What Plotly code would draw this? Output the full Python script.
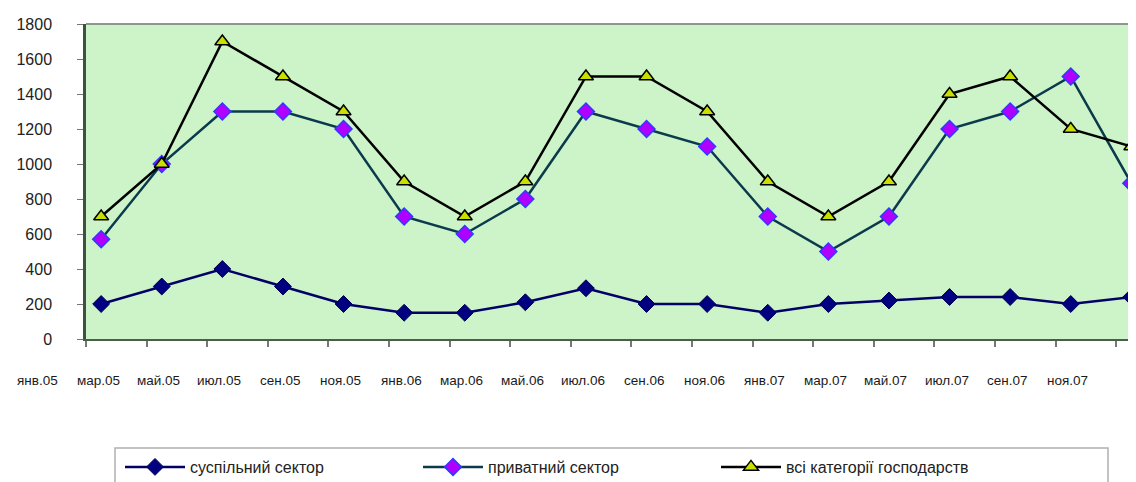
import plotly.graph_objects as go

# ---- data ----
labels = ["янв.05", "мар.05", "май.05", "июл.05", "сен.05", "ноя.05",
          "янв.06", "мар.06", "май.06", "июл.06", "сен.06", "ноя.06",
          "янв.07", "мар.07", "май.07", "июл.07", "сен.07", "ноя.07"]
public_sector = [200, 300, 400, 300, 200, 150, 150, 210, 290, 200, 200, 150,
                 200, 220, 240, 240, 200, 240]
private_sector = [570, 1000, 1300, 1300, 1200, 700, 600, 800, 1300, 1200, 1100, 700,
                  500, 700, 1200, 1300, 1500, 890]
all_categories = [700, 1000, 1700, 1500, 1300, 900, 700, 900, 1500, 1500, 1300, 900,
                  700, 900, 1400, 1500, 1200, 1100]
series_names = ["суспільний сектор", "приватний сектор", "всі категорії господарств"]
y_ticks = [0, 200, 400, 600, 800, 1000, 1200, 1400, 1600, 1800]

n = len(public_sector)
xs = list(range(1, n + 1))
FONT = "Liberation Sans, Arial, sans-serif"

# figure geometry (page has an 8px body margin)
W, H = 1136, 474
ML, MT, MB, MR = 78, 16, 143, 0
PW = W - ML - MR
PH = H - MT - MB
UNIT = 60.6
XR = [0.75, 0.75 + PW / UNIT]

fig = go.Figure()
fig.add_trace(go.Scatter(
    x=xs, y=public_sector, name=series_names[0], mode="lines+markers",
    line=dict(color="#000066", width=2.5),
    marker=dict(symbol="diamond", size=13, color="#000080",
                line=dict(color="#000050", width=1)),
    cliponaxis=False))
fig.add_trace(go.Scatter(
    x=xs, y=private_sector, name=series_names[1], mode="lines+markers",
    line=dict(color="#0b3a4c", width=2.5),
    marker=dict(symbol="diamond", size=13, color="#b000ff",
                line=dict(color="#2a3cff", width=1.5)),
    cliponaxis=False))
fig.add_trace(go.Scatter(
    x=xs, y=all_categories, name=series_names[2], mode="lines+markers",
    line=dict(color="#000000", width=2.5),
    marker=dict(symbol="triangle-up", size=13, color="#c8e000",
                line=dict(color="#000000", width=1.5)),
    cliponaxis=False))

# x labels (Excel-like date axis: labels sit one slot to the left)
for k, lab in enumerate(labels):
    px = (k - 0.05 - XR[0]) / (XR[1] - XR[0])
    fig.add_annotation(x=px, xref="paper", y=-41 / PH, yref="paper",
                       text=lab, showarrow=False, yanchor="middle",
                       xanchor="center",
                       font=dict(family=FONT, size=13.5, color="#1a1a1a"))

# legend frame
fig.add_shape(type="rect", xref="paper", yref="paper",
              x0=(107 - ML) / PW, x1=(1100 - ML) / PW,
              y0=-(H - MT - PH + 20) / PH, y1=-(440 - MT - PH) / PH,
              line=dict(color="#b0b0b0", width=1.5), fillcolor="rgba(0,0,0,0)")

fig.update_layout(
    width=W, height=H,
    margin=dict(l=ML, r=MR, t=MT, b=MB, autoexpand=False),
    paper_bgcolor="white",
    plot_bgcolor="#cdf3c9",
    font=dict(family=FONT, size=13, color="#222222"),
    showlegend=True,
    legend=dict(orientation="h", x=(112 - ML) / PW, xanchor="left",
                y=-(442 - MT - PH) / PH, yanchor="top",
                entrywidth=223, entrywidthmode="pixels", itemwidth=60,
                bgcolor="rgba(0,0,0,0)", borderwidth=0,
                font=dict(family=FONT, size=16, color="#222222")),
    xaxis=dict(range=XR, showgrid=False, zeroline=False,
               showticklabels=False, ticks="", showline=True,
               linecolor="#4a5e4a", linewidth=2, mirror=False,
               minor=dict(tick0=0.75, dtick=1, ticks="outside", ticklen=6,
                          tickcolor="#777777", tickwidth=1.5, showgrid=False)),
    yaxis=dict(range=[0, 1800], tickvals=y_ticks, showgrid=False, zeroline=False,
               showline=True, linecolor="#3f523f", linewidth=2.5,
               ticks="outside", ticklen=6, tickcolor="#777777",
               ticklabelstandoff=22,
               tickfont=dict(family=FONT, size=16, color="#222222")),
)
# top border of the plot area
fig.add_shape(type="line", xref="paper", yref="paper", x0=0, x1=1, y0=1, y1=1,
              line=dict(color="#8a9a8a", width=2))

fig.write_html("out.html")
